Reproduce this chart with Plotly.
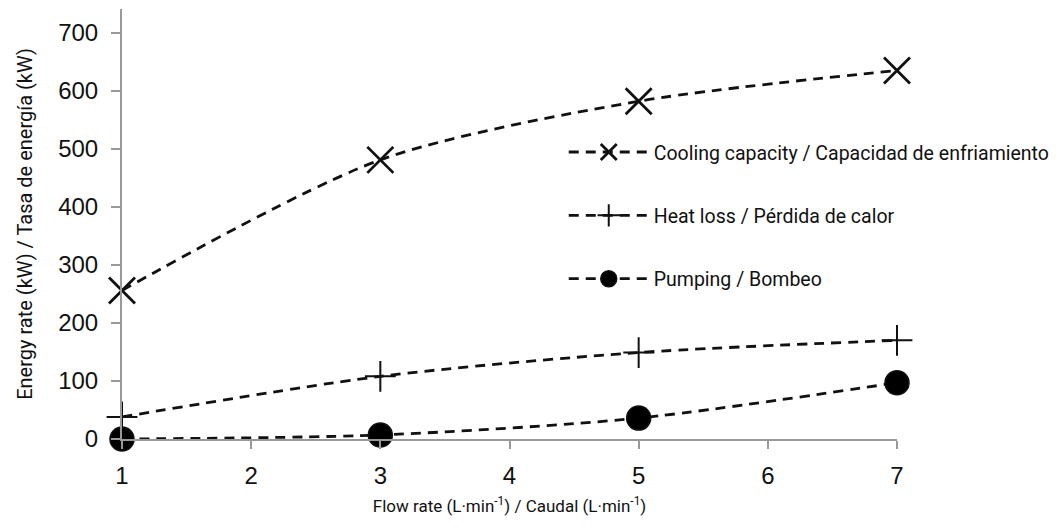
import plotly.graph_objects as go

flow = [1, 3, 5, 7]
cooling = [256, 481, 582, 635]
heat_loss = [38, 108, 149, 170]
pumping = [0, 7, 36, 97]

names = ["Cooling capacity / Capacidad de enfriamiento",
         "Heat loss / Pérdida de calor",
         "Pumping / Bombeo"]

title_font = "Roboto, Liberation Sans, sans-serif"
tick_font = "Liberation Sans, Arial, sans-serif"

fig = go.Figure()
series = [(cooling, "x-thin", 26, 2.8, names[0]),
          (heat_loss, "cross-thin", 22, 2.0, names[1]),
          (pumping, "circle", 24, 1.5, names[2])]
for i, (vals, sym, sz, lw, nm) in enumerate(series):
    fig.add_trace(go.Scatter(
        x=flow, y=vals, name=nm, mode="lines+markers",
        line=dict(color="#111111", width=2.8, dash="10px,7px", shape="spline", smoothing=0.8),
        marker=dict(symbol=sym, size=sz, color="#000000",
                    line=dict(color="#111111", width=lw)),
        cliponaxis=False, legendgroup=f"g{i}"))

fig.update_layout(
    width=1064, height=529,
    margin=dict(l=114, r=175, t=1, b=98),
    paper_bgcolor="white", plot_bgcolor="white",
    showlegend=True,
    legend=dict(x=0.57, y=0.712, xanchor="left", yanchor="top",
                bgcolor="rgba(0,0,0,0)", traceorder="grouped", tracegroupgap=35,
                itemwidth=80,
                font=dict(family=title_font, size=19.5, color="#111111")),
    xaxis=dict(range=[1, 7], tickvals=[1, 2, 3, 4, 5, 6, 7], showgrid=False, zeroline=False,
               showline=True, linecolor="#999999", linewidth=2,
               ticks="outside", ticklen=8, tickcolor="#999999", tickwidth=2,
               ticklabelstandoff=6,
               tickfont=dict(family=tick_font, size=24, color="#111111"),
               title=dict(text="Flow rate (L·min<sup>-1</sup>) / Caudal (L·min<sup>-1</sup>)",
                          font=dict(family=title_font, size=17, color="#111111"), standoff=12)),
    yaxis=dict(range=[0, 741], tickvals=[0, 100, 200, 300, 400, 500, 600, 700], showgrid=False,
               zeroline=False, showline=True, linecolor="#999999", linewidth=2,
               ticks="outside", ticklen=9, tickcolor="#999999", tickwidth=2,
               ticklabelstandoff=8,
               tickfont=dict(family=tick_font, size=24, color="#111111"),
               title=dict(text="Energy rate (kW) / Tasa de energía (kW)",
                          font=dict(family=title_font, size=20, color="#111111"), standoff=20)),
)

fig.write_html("out.html")
